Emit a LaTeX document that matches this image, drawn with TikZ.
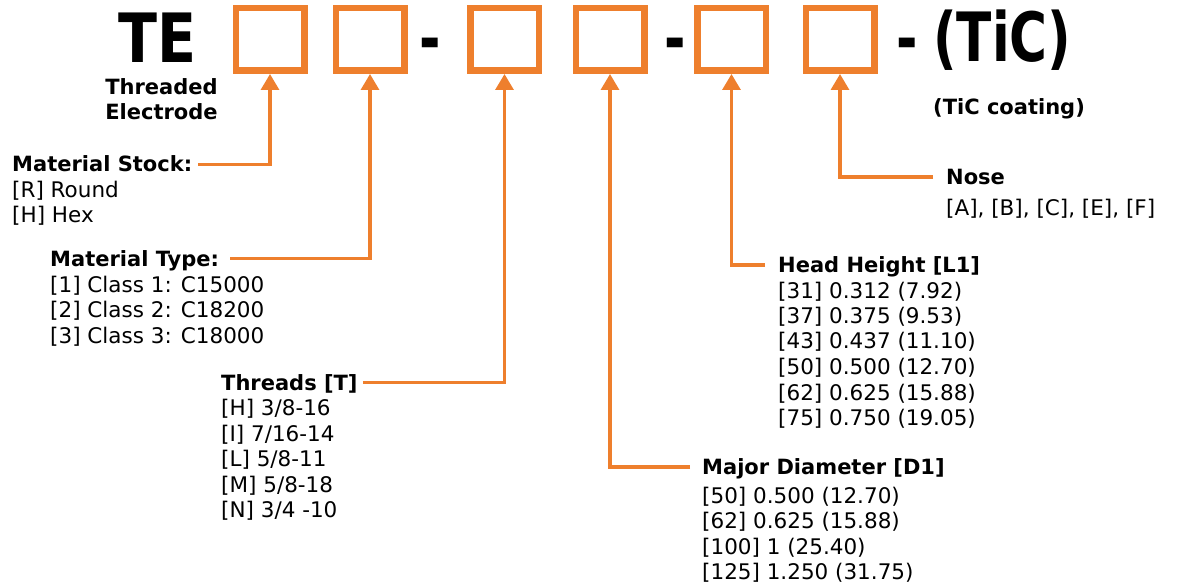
\documentclass[tikz,border=0pt]{standalone}
\usepackage{fontspec}
\setmainfont{DejaVu Sans}
\newfontfamily\titlefont[FakeStretch=0.76]{DejaVu Sans}
\newfontfamily\prefixfont[FakeStretch=0.84]{DejaVu Sans}
\usetikzlibrary{arrows.meta}
\definecolor{codeorange}{RGB}{238,127,45}

\tikzset{
  slot/.style={draw=codeorange, line width=6.5pt, minimum width=68.5pt, minimum height=62.5pt, inner sep=0pt},
  bigtext/.style={font=\titlefont\bfseries\fontsize{68}{72}\selectfont, inner sep=0pt},
  subtitle/.style={font=\bfseries\fontsize{21}{25}\selectfont, inner sep=0pt},
  heading/.style={font=\bfseries\fontsize{21}{25.5}\selectfont, inner sep=0pt, text height=15pt, text depth=0pt, anchor=base west},
  options/.style={font=\fontsize{21.5}{25.5}\selectfont, inner sep=0pt, anchor=base west},
  conn/.style={draw=codeorange, line width=3.2pt, -{Triangle[width=18pt,length=16pt]}},
}

\begin{document}
\begin{tikzpicture}[x=1pt, y=-1pt]
      \useasboundingbox (0,0) rectangle (1186,588);

      % part number
      \node [bigtext, font=\prefixfont\bfseries\fontsize{68}{72}\selectfont, anchor=base west] (te) at (118,63) {TE};
      \node [slot] (b1) at (270,39.5) {};
      \node [slot] (b2) at (370,39.5) {};
      \node [bigtext, anchor=base] (d1) at (430,63) {-};
      \node [slot] (b3) at (504.5,39.5) {};
      \node [slot] (b4) at (610,39.5) {};
      \node [bigtext, anchor=base] (d2) at (675,63) {-};
      \node [slot] (b5) at (731.5,39.5) {};
      \node [slot] (b6) at (840,39.5) {};
      \node [bigtext, anchor=base] (d3) at (907,63) {-};
      \node [bigtext, anchor=base west] (tic) at (933,62) {(TiC)};

      \node [subtitle, anchor=base] (tename) at (161.5,95)
        {\begin{tabular}[t]{@{}c@{}}Threaded\\Electrode\end{tabular}};
      \node [subtitle, anchor=base] (ticname) at (1009,115) {(TiC coating)};

      % left side
      \node [heading] (stock) at (12,172) {Material Stock:};
      \node [options] (stockopts) at (12,197.5)
        {\begin{tabular}[t]{@{}l@{}}[R] Round\\{}[H] Hex\end{tabular}};

      \node [heading] (type) at (50,266) {Material Type:};
      \node [options] (typeopts) at (50,292)
        {\begin{tabular}[t]{@{}l@{}}[1] Class 1: C15000\\{}[2] Class 2: C18200\\{}[3] Class 3: C18000\end{tabular}};

      \node [heading] (threads) at (221,390) {Threads [T]};
      \node [options] (threadopts) at (221,415.5)
        {\begin{tabular}[t]{@{}l@{}}[H] 3/8-16\\{}[I] 7/16-14\\{}[L] 5/8-11\\{}[M] 5/8-18\\{}[N] 3/4 -10\end{tabular}};

      % right side
      \node [heading] (major) at (702,474.5) {Major Diameter [D1]};
      \node [options] (majoropts) at (702,503)
        {\begin{tabular}[t]{@{}l@{}}[50] 0.500 (12.70)\\{}[62] 0.625 (15.88)\\{}[100] 1 (25.40)\\{}[125] 1.250 (31.75)\end{tabular}};

      \node [heading] (head) at (778,272.5) {Head Height [L1]};
      \node [options] (headopts) at (778,298)
        {\begin{tabular}[t]{@{}l@{}}[31] 0.312 (7.92)\\{}[37] 0.375 (9.53)\\{}[43] 0.437 (11.10)\\{}[50] 0.500 (12.70)\\{}[62] 0.625 (15.88)\\{}[75] 0.750 (19.05)\end{tabular}};

      \node [heading] (nose) at (946,184.5) {Nose};
      \node [options] (noseopts) at (946,215) {[A], [B], [C], [E], [F]};

      % connectors
      \draw [conn] ([xshift=6pt]stock.east) -| (b1.south);
      \draw [conn] ([xshift=11pt]type.east) -| (b2.south);
      \draw [conn] ([xshift=5pt]threads.east) -| (b3.south);
      \draw [conn] ([xshift=-12pt]major.west) -| (b4.south);
      \draw [conn] ([xshift=-13pt]head.west) -| (b5.south);
      \draw [conn] ([xshift=-13pt]nose.west) -| (b6.south);
    \end{tikzpicture}
\end{document}
